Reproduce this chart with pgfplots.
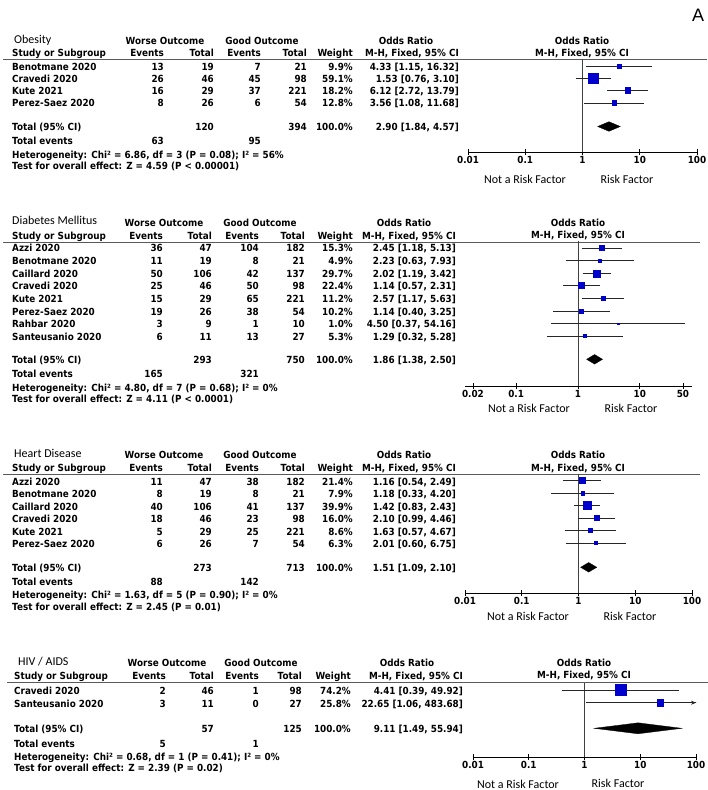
\documentclass[border=0pt]{standalone}
\usepackage{fontspec}
\usepackage{pgfplots}
\pgfplotsset{compat=1.18}
\usepackage{pgfplotstable}
\usetikzlibrary{arrows.meta}
\setmainfont{DejaVu Sans}
\newfontfamily\rv{DejaVu Sans}[FakeStretch=0.9]
\newfontfamily\calfont{Carlito}
\newfontfamily\libfont{Liberation Sans}
\definecolor{sq}{RGB}{0,0,204}
\newcommand\tf{\rv\bfseries\fontsize{9.8}{11}\selectfont}

% forest data: estimate, CI, weight, row (pt from the top, negative)
\pgfplotstableread{
name est lo hi w y
Benotmane 4.33 1.15 16.32 9.9 -66
Cravedi 1.53 0.76 3.10 59.1 -78
Kute 6.12 2.72 13.79 18.2 -90
Perez 3.56 1.08 11.68 12.8 -103
}\obes
\pgfplotstableread{
name est lo hi w y
Azzi 2.45 1.18 5.13 15.3 -248
Benotmane 2.23 0.63 7.93 4.9 -260.5
Caillard 2.02 1.19 3.42 29.7 -273.5
Cravedi 1.14 0.57 2.31 22.4 -285.5
Kute 2.57 1.17 5.63 11.2 -298.5
Perez 1.14 0.40 3.25 10.2 -311
Rahbar 4.50 0.37 54.16 1.0 -323.5
Santeusanio 1.29 0.32 5.28 5.3 -336
}\diab
\pgfplotstableread{
name est lo hi w y
Azzi 1.16 0.54 2.49 21.4 -480.5
Benotmane 1.18 0.33 4.20 7.9 -493
Caillard 1.42 0.83 2.43 39.9 -505.5
Cravedi 2.10 0.99 4.46 16.0 -518
Kute 1.63 0.57 4.67 8.6 -530.5
Perez 2.01 0.60 6.75 6.3 -543
}\heart
\pgfplotstableread{
name est lo hi w y
Cravedi 4.41 0.39 49.92 74.2 -690
Santeusanio 22.65 1.06 483.68 25.8 -702.7
}\hiv

\newcommand\forestci[1]{%
  \pgfplotstablegetrowsof{#1}%
  \pgfmathtruncatemacro\nlast{\pgfplotsretval-1}%
  \pgfplotsforeachungrouped \k in {0,...,\nlast}{%
    \pgfplotstablegetelem{\k}{lo}\of{#1}\let\vlo\pgfplotsretval
    \pgfplotstablegetelem{\k}{hi}\of{#1}\let\vhi\pgfplotsretval
    \pgfplotstablegetelem{\k}{y}\of{#1}\let\vy\pgfplotsretval
    \edef\cmd{\noexpand\addplot[black!85, line width=0.6pt, mark=none] coordinates {(\vlo,\vy) (\vhi,\vy)};}\cmd
  }}

% one table row: baseline, name, events, total, events, total, weight, CI
\newcommand\row[8]{%
  \node[L] at (\xn,#1) {#2};
  \node[R] at (\xa,#1) {#3};
  \node[R] at (\xb,#1) {#4};
  \node[R] at (\xc,#1) {#5};
  \node[R] at (\xd,#1) {#6};
  \node[R] at (\xe,#1) {#7};
  \node[R] at (\xf,#1) {#8};}

\begin{document}
\begin{tikzpicture}
\path[use as bounding box] (0,0) rectangle (708pt,-790pt);

\begin{scope}[x=1pt, y=-1pt,
  L/.style={font=\tf, inner sep=0pt, anchor=base west},
  R/.style={font=\tf, inner sep=0pt, anchor=base east},
  C/.style={font=\tf, inner sep=0pt, anchor=base},
  ttl/.style={font=\calfont\fontsize{12}{12}\selectfont, inner sep=0pt, anchor=base west},
  lab/.style={font=\calfont\fontsize{12}{12}\selectfont, inner sep=0pt, anchor=base},
  hline/.style={black!65, line width=1pt}]

\node[font=\libfont\fontsize{18}{18}\selectfont, inner sep=0pt, anchor=base] at (698,21.5) {A};

% ---- Obesity
\def\xn{12}\def\xa{164}\def\xb{214}\def\xc{261}\def\xd{307}\def\xe{353}\def\xf{459}
\node[ttl] at (14,43) {Obesity};
\node[C] at (165,44) {Worse Outcome};
\node[C] at (262,44) {Good Outcome};
\node[C] at (406,44) {Odds Ratio};
\node[C] at (582,44) {Odds Ratio};
\row{56}{Study or Subgroup}{Events}{Total}{Events}{Total}{Weight}{M-H, Fixed, 95\% CI}
\node[C] at (582,56) {M-H, Fixed, 95\% CI};
\draw[hline] (3,59) -- (707,59);
\row{70}{Benotmane 2020}{13}{19}{7}{21}{9.9\%}{4.33 [1.15, 16.32]}
\row{82}{Cravedi 2020}{26}{46}{45}{98}{59.1\%}{1.53 [0.76, 3.10]}
\row{94}{Kute 2021}{16}{29}{37}{221}{18.2\%}{6.12 [2.72, 13.79]}
\row{106}{Perez-Saez 2020}{8}{26}{6}{54}{12.8\%}{3.56 [1.08, 11.68]}
\row{130}{Total (95\% CI)}{}{120}{}{394}{100.0\%}{2.90 [1.84, 4.57]}
\row{144}{Total events}{63}{}{95}{}{}{}
\node[L] at (12,158) {Heterogeneity: Chi² = 6.86, df = 3 (P = 0.08); I² = 56\%};
\node[L] at (12,169) {Test for overall effect: Z = 4.59 (P < 0.00001)};
\node[lab] at (525,183) {Not a Risk Factor};
\node[lab] at (627,183) {Risk Factor};

% ---- Diabetes
\def\xn{12}\def\xa{163}\def\xb{212}\def\xc{259}\def\xd{305}\def\xe{353}\def\xf{456}
\node[ttl] at (12,224) {Diabetes Mellitus};
\node[C] at (164,226) {Worse Outcome};
\node[C] at (260,226) {Good Outcome};
\node[C] at (404,226) {Odds Ratio};
\node[C] at (578,226) {Odds Ratio};
\row{239}{Study or Subgroup}{Events}{Total}{Events}{Total}{Weight}{M-H, Fixed, 95\% CI}
\node[C] at (578,238.5) {M-H, Fixed, 95\% CI};
\draw[hline] (3,242) -- (700,242);
\row{251.7}{Azzi 2020}{36}{47}{104}{182}{15.3\%}{2.45 [1.18, 5.13]}
\row{264.5}{Benotmane 2020}{11}{19}{8}{21}{4.9\%}{2.23 [0.63, 7.93]}
\row{277.3}{Caillard 2020}{50}{106}{42}{137}{29.7\%}{2.02 [1.19, 3.42]}
\row{289.7}{Cravedi 2020}{25}{46}{50}{98}{22.4\%}{1.14 [0.57, 2.31]}
\row{302.3}{Kute 2021}{15}{29}{65}{221}{11.2\%}{2.57 [1.17, 5.63]}
\row{315}{Perez-Saez 2020}{19}{26}{38}{54}{10.2\%}{1.14 [0.40, 3.25]}
\row{327.7}{Rahbar 2020}{3}{9}{1}{10}{1.0\%}{4.50 [0.37, 54.16]}
\row{340}{Santeusanio 2020}{6}{11}{13}{27}{5.3\%}{1.29 [0.32, 5.28]}
\row{363}{Total (95\% CI)}{}{293}{}{750}{100.0\%}{1.86 [1.38, 2.50]}
\row{377}{Total events}{165}{}{321}{}{}{}
\node[L] at (12,391) {Heterogeneity: Chi² = 4.80, df = 7 (P = 0.68); I² = 0\%};
\node[L] at (12,402) {Test for overall effect: Z = 4.11 (P < 0.0001)};
\node[lab] at (529,412) {Not a Risk Factor};
\node[lab] at (631,412) {Risk Factor};

% ---- Heart disease
\def\xn{12}\def\xa{163}\def\xb{212}\def\xc{259}\def\xd{305}\def\xe{353}\def\xf{456}
\node[ttl] at (14,457) {Heart Disease};
\node[C] at (164,458.3) {Worse Outcome};
\node[C] at (260,458.3) {Good Outcome};
\node[C] at (404,458.3) {Odds Ratio};
\node[C] at (578,458.3) {Odds Ratio};
\row{471}{Study or Subgroup}{Events}{Total}{Events}{Total}{Weight}{M-H, Fixed, 95\% CI}
\node[C] at (578,471) {M-H, Fixed, 95\% CI};
\draw[hline] (3,474) -- (700,474);
\row{485}{Azzi 2020}{11}{47}{38}{182}{21.4\%}{1.16 [0.54, 2.49]}
\row{497.7}{Benotmane 2020}{8}{19}{8}{21}{7.9\%}{1.18 [0.33, 4.20]}
\row{510.3}{Caillard 2020}{40}{106}{41}{137}{39.9\%}{1.42 [0.83, 2.43]}
\row{522.5}{Cravedi 2020}{18}{46}{23}{98}{16.0\%}{2.10 [0.99, 4.46]}
\row{535}{Kute 2021}{5}{29}{25}{221}{8.6\%}{1.63 [0.57, 4.67]}
\row{547.3}{Perez-Saez 2020}{6}{26}{7}{54}{6.3\%}{2.01 [0.60, 6.75]}
\row{571}{Total (95\% CI)}{}{273}{}{713}{100.0\%}{1.51 [1.09, 2.10]}
\row{585}{Total events}{88}{}{142}{}{}{}
\node[L] at (12,598.3) {Heterogeneity: Chi² = 1.63, df = 5 (P = 0.90); I² = 0\%};
\node[L] at (12,610.7) {Test for overall effect: Z = 2.45 (P = 0.01)};
\node[lab] at (528,620) {Not a Risk Factor};
\node[lab] at (630,620) {Risk Factor};

% ---- HIV / AIDS
\def\xn{14}\def\xa{166}\def\xb{214}\def\xc{259}\def\xd{302}\def\xe{351}\def\xf{463}
\node[ttl] at (18,665.7) {HIV / AIDS};
\node[C] at (167,666.7) {Worse Outcome};
\node[C] at (261,666.7) {Good Outcome};
\node[C] at (407,666.7) {Odds Ratio};
\node[C] at (584,666) {Odds Ratio};
\node[C] at (584,678.7) {M-H, Fixed, 95\% CI};
\draw[hline] (7,682) -- (708,682);
\row{679.3}{Study or Subgroup}{Events}{Total}{Events}{Total}{Weight}{M-H, Fixed, 95\% CI}
\row{694.3}{Cravedi 2020}{2}{46}{1}{98}{74.2\%}{4.41 [0.39, 49.92]}
\row{707}{Santeusanio 2020}{3}{11}{0}{27}{25.8\%}{22.65 [1.06, 483.68]}
\row{732}{Total (95\% CI)}{}{57}{}{125}{100.0\%}{9.11 [1.49, 55.94]}
\row{747.3}{Total events}{5}{}{1}{}{}{}
\node[L] at (14,760.7) {Heterogeneity: Chi² = 0.68, df = 1 (P = 0.41); I² = 0\%};
\node[L] at (14,771.7) {Test for overall effect: Z = 2.39 (P = 0.02)};
\node[lab] at (518,788) {Not a Risk Factor};
\node[lab] at (618,787) {Risk Factor};
\end{scope}

% ---- forest plots
\begin{semilogxaxis}[scale only axis, width=229pt, height=93pt,
  xmin=0.01, xmax=100, ymin=-152, ymax=-59,
  axis x line*=bottom, axis y line=none, xminorticks=false,
  tick align=center, major tick length=6pt,
  axis line style={line width=0.7pt, -}, tick style={black, line width=0.7pt},
  xtick={0.01,0.1,1,10,100}, xticklabels={0.01,0.1,1,10,100},
  xticklabel style={font=\tf, inner sep=1pt},
  at={(468pt,-152pt)}, anchor=south west]
\addplot[black!75, line width=0.7pt, mark=none] coordinates {(1,-152) (1,-59)};
\forestci{\obes}
\addplot[scatter, only marks, mark=square*, scatter/use mapped color={draw=sq, fill=sq},
  visualization depends on={0.65*sqrt(\thisrow{w}) \as \msz},
  scatter/@pre marker code/.append style={/tikz/mark size=\msz}] table[x=est,y=y]{\obes};
\addplot[fill=black, draw=black, line width=0.3pt, mark=none] coordinates {(1.84,-126.5) (2.90,-121.7) (4.57,-126.5) (2.90,-131.3)} --cycle;
\end{semilogxaxis}

\begin{semilogxaxis}[scale only axis, width=227pt, height=145pt,
  xmin=0.0149, xmax=70, ymin=-386, ymax=-241,
  axis x line*=bottom, axis y line=none, xminorticks=false,
  tick align=center, major tick length=6pt,
  axis line style={line width=0.7pt, -}, tick style={black, line width=0.7pt},
  xtick={0.02,0.1,1,10,50}, xticklabels={0.02,0.1,1,10,50},
  xticklabel style={font=\tf, inner sep=1pt},
  at={(465pt,-386pt)}, anchor=south west]
\addplot[black!75, line width=0.7pt, mark=none] coordinates {(1,-386) (1,-241)};
\forestci{\diab}
\addplot[scatter, only marks, mark=square*, scatter/use mapped color={draw=sq, fill=sq},
  visualization depends on={0.65*sqrt(\thisrow{w}) \as \msz},
  scatter/@pre marker code/.append style={/tikz/mark size=\msz}] table[x=est,y=y]{\diab};
\addplot[fill=black, draw=black, line width=0.3pt, mark=none] coordinates {(1.38,-359.3) (1.86,-354.5) (2.50,-359.3) (1.86,-364.1)} --cycle;
\end{semilogxaxis}

\begin{semilogxaxis}[scale only axis, width=227pt, height=119pt,
  xmin=0.01, xmax=100, ymin=-593, ymax=-474,
  axis x line*=bottom, axis y line=none, xminorticks=false,
  tick align=center, major tick length=6pt,
  axis line style={line width=0.7pt, -}, tick style={black, line width=0.7pt},
  xtick={0.01,0.1,1,10,100}, xticklabels={0.01,0.1,1,10,100},
  xticklabel style={font=\tf, inner sep=1pt},
  at={(465pt,-593pt)}, anchor=south west]
\addplot[black!75, line width=0.7pt, mark=none] coordinates {(1,-593) (1,-474)};
\forestci{\heart}
\addplot[scatter, only marks, mark=square*, scatter/use mapped color={draw=sq, fill=sq},
  visualization depends on={0.65*sqrt(\thisrow{w}) \as \msz},
  scatter/@pre marker code/.append style={/tikz/mark size=\msz}] table[x=est,y=y]{\heart};
\addplot[fill=black, draw=black, line width=0.3pt, mark=none] coordinates {(1.09,-567.3) (1.51,-562.5) (2.10,-567.3) (1.51,-572.1)} --cycle;
\end{semilogxaxis}

\begin{semilogxaxis}[scale only axis, width=223pt, height=74pt,
  xmin=0.01, xmax=100, ymin=-757, ymax=-683,
  axis x line*=bottom, axis y line=none, xminorticks=false,
  tick align=center, major tick length=6pt,
  axis line style={line width=0.7pt, -}, tick style={black, line width=0.7pt},
  xtick={0.01,0.1,1,10,100}, xticklabels={0.01,0.1,1,10,100},
  xticklabel style={font=\tf, inner sep=1pt},
  at={(473pt,-757pt)}, anchor=south west]
\addplot[black!75, line width=0.7pt, mark=none] coordinates {(1,-757) (1,-683)};
\forestci{\hiv}
\addplot[black!85, line width=0.6pt, mark=none, -{Stealth[length=5pt, width=4pt]}] coordinates {(60,-702.7) (100,-702.7)};
\addplot[scatter, only marks, mark=square*, scatter/use mapped color={draw=sq, fill=sq},
  visualization depends on={0.65*sqrt(\thisrow{w}) \as \msz},
  scatter/@pre marker code/.append style={/tikz/mark size=\msz}] table[x=est,y=y]{\hiv};
\addplot[fill=black, draw=black, line width=0.3pt, mark=none] coordinates {(1.49,-728.3) (9.11,-722.8) (55.94,-728.3) (9.11,-733.8)} --cycle;
\end{semilogxaxis}
\end{tikzpicture}
\end{document}
